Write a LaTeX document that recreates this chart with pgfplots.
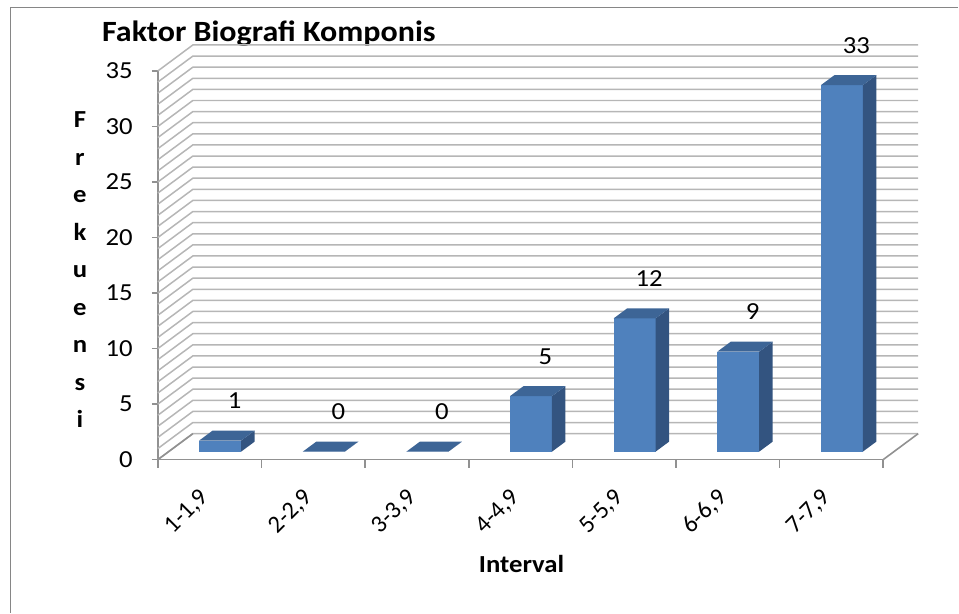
\documentclass[border=0pt]{standalone}
\usepackage{fontspec}
\setmainfont{Carlito}[FakeStretch=1.09]
\newfontfamily\plaincarlito{Carlito}
\usepackage{pgfplots}
\pgfplotsset{compat=1.18}
\definecolor{barfront}{RGB}{79,129,189}
\definecolor{bartop}{RGB}{61,101,150}
\definecolor{barside}{RGB}{51,84,128}
\definecolor{gridc}{RGB}{182,182,182}
\definecolor{axisc}{RGB}{145,145,145}
\definecolor{framec}{RGB}{134,134,134}
\pgfdeclareplotmark{nothing}{}
\newlength\barh
\newcommand\tfont{\fontsize{24.5}{29.4}\selectfont}
\begin{document}
\begin{tikzpicture}[x=1pt,y=1pt]
\path (0,0) rectangle (959,-613);
\draw[framec, line width=1.6pt] (10.5,-613) -- (10.5,-7.5) -- (959,-7.5);
\node[anchor=base west, font=\fontsize{29.4}{35}\selectfont\bfseries, inner sep=0pt] at (102,-42) {Faktor Biografi Komponis};
\node[anchor=center, align=center, font=\fontsize{24.5}{37.6}\selectfont\bfseries, inner sep=0pt] at (80,-270) {F\\r\\e\\k\\u\\e\\n\\s\\i};
\node[anchor=base, font=\tfont\bfseries, inner sep=0pt] at (522,-573) {Interval};
\begin{axis}[
  at={(158pt,-460pt)}, anchor=south west,
  x=103.7pt, y=11.114pt,
  xmin=0.5, xmax=7.5, ymin=0, ymax=35,
  clip=false,
  axis x line*=bottom, axis y line*=left,
  axis line style={draw=axisc, line width=1.6pt, -},
  tick align=outside,
  ytick={0,5,...,35},
  major tick length=6pt,
  minor tick length=8pt,
  y tick style={draw=axisc, line width=1.6pt},
  xtick={1,2,3,4,5,6,7},
  xticklabels={{1-1,9},{2-2,9},{3-3,9},{4-4,9},{5-5,9},{6-6,9},{7-7,9}},
  major x tick style={draw=none},
  minor xtick={0.5,1.5,2.5,3.5,4.5,5.5,6.5,7.5},
  minor x tick style={draw=axisc, line width=1.6pt},
  /pgf/number format/assume math mode=true,
  tick label style={font=\tfont, inner sep=0pt},
  yticklabel style={anchor=east, xshift=-19pt},
  xticklabel style={font=\tfont\plaincarlito, xshift=-4.5pt, yshift=-28.5pt, rotate=45, anchor=east},
]
\pgfplotsinvokeforeach{0,...,35}{
  \draw[gridc, line width=1.5pt] (axis cs:0.5,#1) -- ++(35pt,26pt) -- ++(726pt,0pt);
}
\draw[axisc, line width=1.6pt] (axis cs:0.5,0) -- ++(35pt,26pt);
\draw[axisc, line width=1.6pt] (axis cs:7.5,0) -- ++(35pt,26pt);
\addplot[scatter, only marks, mark=nothing,
  visualization depends on={value \thisrow{y} \as \val},
  scatter/@pre marker code/.code={%
    \barh=\dimexpr 11.114pt*\val\relax
    \begin{pgfscope}
    \pgfsetfillcolor{barfront}
    \pgfpathmoveto{\pgfqpoint{-10.5pt}{8pt}}
    \pgfpathlineto{\pgfqpoint{31.5pt}{8pt}}
    \pgfpathlineto{\pgfqpoint{31.5pt}{\dimexpr8pt-\barh\relax}}
    \pgfpathlineto{\pgfqpoint{-10.5pt}{\dimexpr8pt-\barh\relax}}
    \pgfpathclose
    \pgfusepath{fill}
    \pgfsetfillcolor{barside}
    \pgfpathmoveto{\pgfqpoint{31.5pt}{8pt}}
    \pgfpathlineto{\pgfqpoint{45pt}{18pt}}
    \pgfpathlineto{\pgfqpoint{45pt}{\dimexpr18pt-\barh\relax}}
    \pgfpathlineto{\pgfqpoint{31.5pt}{\dimexpr8pt-\barh\relax}}
    \pgfpathclose
    \pgfusepath{fill}
    \pgfsetfillcolor{bartop}
    \pgfpathmoveto{\pgfqpoint{-10.5pt}{8pt}}
    \pgfpathlineto{\pgfqpoint{31.5pt}{8pt}}
    \pgfpathlineto{\pgfqpoint{45pt}{18pt}}
    \pgfpathlineto{\pgfqpoint{3pt}{18pt}}
    \pgfpathclose
    \pgfusepath{fill}
    \end{pgfscope}
  },
  scatter/@post marker code/.code={},
] table {
x y
1 1
2 0
3 0
4 5
5 12
6 9
7 33
};
\addplot[draw=none, mark=none,
  nodes near coords,
  every node near coord/.append style={font=\tfont, text=black, anchor=base, xshift=25pt, yshift=40pt, inner sep=0pt},
] table {
x y
1 1
2 0
3 0
4 5
5 12
6 9
7 33
};
\end{axis}
\end{tikzpicture}
\end{document}
